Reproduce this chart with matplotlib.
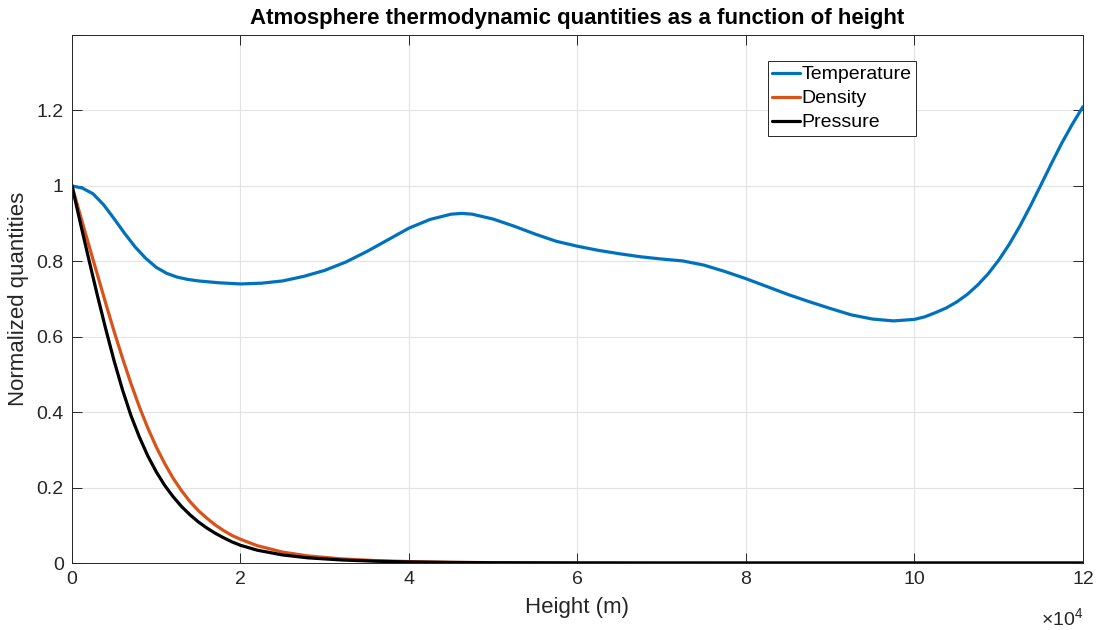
import matplotlib
matplotlib.use("Agg")
import matplotlib.pyplot as plt
from matplotlib.ticker import FuncFormatter

plt.rcParams["font.family"] = ["Liberation Sans", "DejaVu Sans"]
plt.rcParams["mathtext.fontset"] = "custom"
plt.rcParams["mathtext.rm"] = "Liberation Sans"

# ---------------------------------------------------------------------------
# Data (height in metres, values normalised)
# ---------------------------------------------------------------------------
temp_h = [0, 1250, 2500, 3750, 5000, 6250, 7500, 8750, 10000, 11250, 12500,
          13750, 15000, 17500, 20000, 22500,
          25000, 27500, 30000, 32500, 35000, 37500, 40000, 42500, 45000,
          46250, 47500, 50000, 52500, 55000, 57500, 60000, 62500, 65000,
          67500, 70000, 72500, 75000, 77500, 80000, 82500, 85000, 87500,
          90000, 92500, 95000, 97500, 100000, 101250, 102500, 103750, 105000,
          106250, 107500, 108750, 110000, 111250, 112500, 113750, 115000,
          116250, 117500, 118750, 120000]
temp_v = [1.0, 0.994, 0.979, 0.950, 0.913, 0.874, 0.838, 0.808, 0.784, 0.768,
          0.758, 0.752, 0.748, 0.743, 0.740, 0.742,
          0.748, 0.760, 0.776, 0.798, 0.826, 0.857, 0.888, 0.911, 0.925,
          0.927, 0.925, 0.912, 0.893, 0.872, 0.853, 0.840, 0.829, 0.820,
          0.812, 0.806, 0.801, 0.790, 0.773, 0.754, 0.733, 0.712, 0.693,
          0.675, 0.658, 0.647, 0.642, 0.646, 0.653, 0.664, 0.676, 0.692,
          0.712, 0.737, 0.767, 0.803, 0.845, 0.893, 0.946, 1.002,
          1.059, 1.114, 1.164, 1.210]

dens_h = [0, 1000, 2000, 3000, 4000, 5000, 6000, 7000, 8000, 9000, 10000,
          11000, 12000, 13000, 14000, 15000, 16000, 17000, 18000, 19000,
          20000, 22000, 25000, 28000, 32000, 36000, 40000, 45000, 50000,
          60000, 70000, 80000, 100000, 120000]
dens_v = [1.0, 0.921, 0.843, 0.766, 0.689, 0.614, 0.543, 0.476, 0.414, 0.358,
          0.308, 0.264, 0.225, 0.192, 0.163, 0.139, 0.119, 0.101, 0.086,
          0.073, 0.063, 0.046, 0.029, 0.0189, 0.011, 0.0065, 0.0039, 0.002,
          0.001, 0.0003, 0.0001, 0.0, 0.0, 0.0]

pres_h = [0, 1000, 2000, 3000, 4000, 5000, 6000, 7000, 8000, 9000, 10000,
          11000, 12000, 13000, 14000, 15000, 16000, 17000, 18000, 19000,
          20000, 22000, 25000, 28000, 32000, 36000, 40000, 45000, 50000,
          60000, 70000, 80000, 100000, 120000]
pres_v = [1.0, 0.901, 0.805, 0.711, 0.621, 0.536, 0.459, 0.391, 0.334, 0.284,
          0.242, 0.206, 0.176, 0.150, 0.128, 0.109, 0.093, 0.079, 0.067,
          0.056, 0.047, 0.034, 0.0214, 0.0138, 0.0081, 0.0048, 0.0029,
          0.0015, 0.0008, 0.0002, 0.00005, 0.0, 0.0, 0.0]

series = ["Temperature", "Density", "Pressure"]
colors = ["#0072BD", "#D95319", "#000000"]

x_ticks = [0, 20000, 40000, 60000, 80000, 100000, 120000]
y_ticks = [0, 0.2, 0.4, 0.6, 0.8, 1.0, 1.2, 1.4]

# ---------------------------------------------------------------------------
# Plot
# ---------------------------------------------------------------------------
fig = plt.figure(figsize=(10.99, 6.30), dpi=100)
ax = fig.add_axes([0.0655, 0.1063, 0.9199, 0.8381])

for (h, v), name, c in zip([(temp_h, temp_v), (dens_h, dens_v), (pres_h, pres_v)],
                           series, colors):
    ax.plot(h, v, color=c, lw=2.3, label=name,
            solid_joinstyle="round", solid_capstyle="round")

ax.set_xlim(0, 120000)
ax.set_ylim(0, 1.4)
ax.set_xticks(x_ticks)
ax.set_yticks(y_ticks)
ax.xaxis.set_major_formatter(FuncFormatter(lambda v, p: f"{v / 1e4:g}"))
ax.yaxis.set_major_formatter(FuncFormatter(lambda v, p: "" if v > 1.3 else f"{v:g}"))

ax.grid(True, color="#e3e3e3", lw=0.8)
ax.set_axisbelow(True)
for s in ax.spines.values():
    s.set_color("#262626")
    s.set_linewidth(0.7)
ax.tick_params(direction="in", length=7, width=0.7, color="#262626",
               top=True, right=True, labelsize=14, labelcolor="#262626", pad=6)

ax.set_xlabel("Height (m)", fontsize=16, color="#262626", labelpad=6)
ax.set_ylabel("Normalized quantities", fontsize=16, color="#262626", labelpad=5)
ax.set_title("Atmosphere thermodynamic quantities as a function of height",
             fontsize=16, fontweight="bold", color="#000000", pad=8)
ax.text(1.0, -0.12, r"$\times10^{4}$", transform=ax.transAxes, ha="right",
        va="baseline", fontsize=14, color="#262626")

leg = ax.legend(loc="upper left", bbox_to_anchor=(0.688, 0.951), borderaxespad=0,
                fontsize=14, handlelength=1.4, handletextpad=0.1,
                labelspacing=0.33, borderpad=0.25, fancybox=False,
                framealpha=1, edgecolor="#262626")
leg.get_frame().set_linewidth(0.7)

fig.savefig("out.png", dpi=100, facecolor="white")
